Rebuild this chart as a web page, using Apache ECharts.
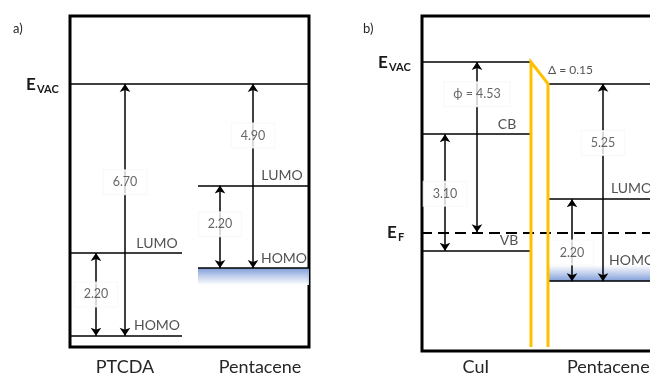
<!DOCTYPE html>
<html>
<head>
<meta charset="utf-8">
<script src="https://cdn.jsdelivr.net/npm/echarts@6/dist/echarts.min.js"></script>
<style>html,body{margin:0;padding:0;background:#fff}#c{width:650px;height:374px}</style>
</head>
<body>
<div id="c"></div>
<script>
// ---------- DATA (energies in eV, as drawn; vacuum level of left material = 0) ----------
const panelLabels = ['a)', 'b)'];
const materialsA = ['PTCDA', 'Pentacene'];
const materialsB = ['CuI', 'Pentacene'];
const levelNamesA = ['LUMO', 'HOMO'];
const levelNamesB = ['CB', 'VB'];
const ptcdaEnergy = [0, -4.50, -6.70];          // Evac, LUMO, HOMO
const pentaceneAEnergy = [0, -2.70, -4.90];     // Evac, LUMO, HOMO
const cuiEnergy = [0, -1.92, -5.02];            // Evac, CB, VB
const fermiEnergy = -4.53;                      // E_F
const pentaceneBEnergy = [-0.58, -3.65, -5.83]; // Evac, LUMO, HOMO (drawn)
const gapLabelsA = ['6.70', '2.20', '4.90', '2.20'];
const gapLabelsB = ['\u03D5 = 4.53', '3.10', '5.25', '2.20'];
const dipoleLabel = '\u0394 = 0.15';

// ---------- LAYOUT ----------
const FONT = 'Lato, "Open Sans", sans-serif';
const yA = [-7.0, 1.81], yB = [-7.58, 1.25];
const XB = 229; // visible width of panel b (its frame continues past the page edge)
const chart = echarts.init(document.getElementById('c'), null, {renderer: 'canvas'});

function seg(x0, x1, e) { return {coords: [[x0, e], [x1, e]]}; }
function arrow(x, e0, e1) { return {coords: [[x, e0], [x, e1]]}; }
function gapLabel(x, e0, e1, t, text) { return {value: [x, e0 + (e1 - e0) * t], text: text}; }

const levelLinesA = [
  seg(0, 239, ptcdaEnergy[0]),
  seg(0, 112, ptcdaEnergy[1]), seg(0, 112, ptcdaEnergy[2]),
  seg(128, 239, pentaceneAEnergy[1]), seg(128, 239, pentaceneAEnergy[2])
];
const arrowsA = [
  arrow(55, ptcdaEnergy[0], ptcdaEnergy[2]),
  arrow(26, ptcdaEnergy[1], ptcdaEnergy[2]),
  arrow(183, pentaceneAEnergy[0], pentaceneAEnergy[2]),
  arrow(150, pentaceneAEnergy[1], pentaceneAEnergy[2])
];
const gapTextA = [
  gapLabel(55, ptcdaEnergy[0], ptcdaEnergy[2], 0.39, gapLabelsA[0]),
  gapLabel(26, ptcdaEnergy[1], ptcdaEnergy[2], 0.5, gapLabelsA[1]),
  gapLabel(183, pentaceneAEnergy[0], pentaceneAEnergy[2], 0.28, gapLabelsA[2]),
  gapLabel(150, pentaceneAEnergy[1], pentaceneAEnergy[2], 0.47, gapLabelsA[3])
];
const levelTextA = [
  {value: [87, ptcdaEnergy[1]], text: levelNamesA[0]},
  {value: [87, ptcdaEnergy[2]], text: levelNamesA[1]},
  {value: [212, pentaceneAEnergy[1]], text: levelNamesA[0]},
  {value: [214, pentaceneAEnergy[2]], text: levelNamesA[1]}
];

const levelLinesB = [
  seg(0, 111, cuiEnergy[0]),
  seg(0, 110, cuiEnergy[1]), seg(0, 110, cuiEnergy[2]),
  seg(127, XB, pentaceneBEnergy[0]),
  seg(127, XB, pentaceneBEnergy[1]), seg(127, XB, pentaceneBEnergy[2])
];
const arrowsB = [
  arrow(56, cuiEnergy[0], fermiEnergy),
  arrow(24, cuiEnergy[1], cuiEnergy[2]),
  arrow(182, pentaceneBEnergy[0], pentaceneBEnergy[2]),
  arrow(151, pentaceneBEnergy[1], pentaceneBEnergy[2])
];
const gapTextB = [
  gapLabel(56, cuiEnergy[0], fermiEnergy, 0.19, gapLabelsB[0]),
  gapLabel(24, cuiEnergy[1], cuiEnergy[2], 0.51, gapLabelsB[1]),
  gapLabel(182, pentaceneBEnergy[0], pentaceneBEnergy[2], 0.30, gapLabelsB[2]),
  gapLabel(151, pentaceneBEnergy[1], pentaceneBEnergy[2], 0.65, gapLabelsB[3])
];

const levelStyle = {color: '#000', width: 1.6, opacity: 1};
const arrowStyle = {color: '#000', width: 1.5, opacity: 1};
const gapLabelStyle = {
  show: true, position: 'inside', formatter: p => p.data.text,
  color: '#404040', fontSize: 12.5, fontFamily: FONT,
  backgroundColor: '#fff', borderColor: '#f6f6f6', borderWidth: 1, padding: [6, 9, 5, 9]
};
const levelLabelStyle = {
  show: true, position: 'top', distance: 3, formatter: p => p.data.text,
  color: '#262626', fontSize: 14, fontFamily: FONT
};

function gradientSeries(xi, data, blueOnTop) {
  return {
    type: 'custom', xAxisIndex: xi, yAxisIndex: xi, z: 1, silent: true,
    data: data,
    renderItem: (params, api) => {
      const p0 = api.coord([api.value(0), api.value(2)]);
      const p1 = api.coord([api.value(1), api.value(3)]);
      const stops = blueOnTop
        ? [{offset: 0, color: '#7f9dd8'}, {offset: 1, color: 'rgba(255,255,255,0.9)'}]
        : [{offset: 0, color: 'rgba(255,255,255,0.9)'}, {offset: 1, color: '#7f9dd8'}];
      return {
        type: 'rect',
        shape: {x: p0[0], y: Math.min(p0[1], p1[1]), width: p1[0] - p0[0], height: Math.abs(p1[1] - p0[1])},
        style: {fill: new echarts.graphic.LinearGradient(0, 0, 0, 1, stops)}
      };
    }
  };
}

const hiddenAxis = {show: false, axisLine: {show: false}, splitLine: {show: false}, axisTick: {show: false}, axisLabel: {show: false}};

const option = {
  animation: false,
  backgroundColor: '#fff',
  grid: [
    {left: 70, top: 16, width: 239, height: 331, show: true, borderColor: '#000', borderWidth: 3, backgroundColor: '#fff'},
    {left: 421, top: 15, right: 0, height: 332, show: false}
  ],
  xAxis: [
    Object.assign({type: 'value', gridIndex: 0, min: 0, max: 239}, hiddenAxis),
    Object.assign({type: 'value', gridIndex: 1, min: 0, max: XB}, hiddenAxis)
  ],
  yAxis: [
    Object.assign({type: 'value', gridIndex: 0, min: yA[0], max: yA[1]}, hiddenAxis),
    Object.assign({type: 'value', gridIndex: 1, min: yB[0], max: yB[1]}, hiddenAxis)
  ],
  series: [
    gradientSeries(0, [[128, 239, pentaceneAEnergy[2], pentaceneAEnergy[2] - 0.45]], true),
    gradientSeries(1, [[127, XB, pentaceneBEnergy[2] + 0.43, pentaceneBEnergy[2]]], false),
    {type: 'lines', coordinateSystem: 'cartesian2d', xAxisIndex: 0, yAxisIndex: 0, z: 3, symbol: 'none',
     lineStyle: levelStyle, data: levelLinesA, silent: true},
    {type: 'lines', coordinateSystem: 'cartesian2d', xAxisIndex: 0, yAxisIndex: 0, z: 3,
     symbol: ['arrow', 'arrow'], symbolSize: 8, lineStyle: arrowStyle, data: arrowsA, silent: true},
    {type: 'scatter', xAxisIndex: 0, yAxisIndex: 0, z: 5, symbolSize: 0, data: gapTextA, label: gapLabelStyle, silent: true},
    {type: 'scatter', xAxisIndex: 0, yAxisIndex: 0, z: 5, symbolSize: 0, data: levelTextA, label: levelLabelStyle, silent: true},

    {type: 'lines', coordinateSystem: 'cartesian2d', xAxisIndex: 1, yAxisIndex: 1, z: 3, symbol: 'none',
     lineStyle: levelStyle, data: levelLinesB, silent: true},
    {type: 'lines', coordinateSystem: 'cartesian2d', xAxisIndex: 1, yAxisIndex: 1, z: 3, symbol: 'none',
     lineStyle: {color: '#000', width: 1.8, opacity: 1, type: [11, 6]}, data: [seg(0, XB, fermiEnergy)], silent: true},
    {type: 'lines', coordinateSystem: 'cartesian2d', xAxisIndex: 1, yAxisIndex: 1, z: 4, symbol: 'none', polyline: true,
     lineStyle: {color: '#FFC000', width: 3, opacity: 1},
     data: [{coords: [[110, yB[0]], [110, cuiEnergy[0]], [127, pentaceneBEnergy[0]], [127, yB[0]]]}], silent: true},
    {type: 'lines', coordinateSystem: 'cartesian2d', xAxisIndex: 1, yAxisIndex: 1, z: 3,
     symbol: ['arrow', 'arrow'], symbolSize: 8, lineStyle: arrowStyle, data: arrowsB, silent: true},
    {type: 'scatter', xAxisIndex: 1, yAxisIndex: 1, z: 5, symbolSize: 0, data: gapTextB, label: gapLabelStyle, silent: true},
    {type: 'scatter', xAxisIndex: 1, yAxisIndex: 1, z: 5, symbolSize: 0, silent: true,
     data: [
       {value: [86, cuiEnergy[1]], text: levelNamesB[0]},
       {value: [88, cuiEnergy[2]], text: levelNamesB[1]}
     ], label: levelLabelStyle},
    {type: 'scatter', xAxisIndex: 1, yAxisIndex: 1, z: 5, symbolSize: 0, silent: true,
     data: [{value: [190, pentaceneBEnergy[1]], text: levelNamesA[0]}],
     label: Object.assign({}, levelLabelStyle, {align: 'left', distance: 4})},
    {type: 'scatter', xAxisIndex: 1, yAxisIndex: 1, z: 5, symbolSize: 0, silent: true,
     data: [{value: [188, pentaceneBEnergy[2]], text: levelNamesA[1]}],
     label: Object.assign({}, levelLabelStyle, {align: 'left', distance: 14})},
    {type: 'scatter', xAxisIndex: 1, yAxisIndex: 1, z: 5, symbolSize: 0, silent: true,
     data: [{value: [127, pentaceneBEnergy[0]], text: dipoleLabel}],
     label: {show: true, position: 'top', align: 'left', distance: 8, formatter: p => p.data.text,
             color: '#262626', fontSize: 12, fontFamily: FONT}}
  ],
  graphic: [
    // frame of panel b (continues past the right edge of the page)
    {type: 'rect', left: 419.5, top: 13.5, z: 0, silent: true,
     shape: {width: 270, height: 335}, style: {fill: null, stroke: '#000', lineWidth: 3}},
    {type: 'text', left: 13, top: 22, style: {text: panelLabels[0], font: '13px ' + FONT, fill: '#262626'}},
    {type: 'text', left: 363, top: 22, style: {text: panelLabels[1], font: '13px ' + FONT, fill: '#262626'}},
    // E_VAC panel a
    {type: 'text', left: 26, top: 76, style: {text: 'E', font: 'bold 17px ' + FONT, fill: '#1a1a1a'}},
    {type: 'text', left: 37, top: 84, style: {text: 'VAC', font: 'bold 11px ' + FONT, fill: '#1a1a1a'}},
    // E_VAC panel b
    {type: 'text', left: 378, top: 54, style: {text: 'E', font: 'bold 17px ' + FONT, fill: '#1a1a1a'}},
    {type: 'text', left: 389, top: 62, style: {text: 'VAC', font: 'bold 11px ' + FONT, fill: '#1a1a1a'}},
    // E_F
    {type: 'text', left: 387, top: 224, style: {text: 'E', font: 'bold 17px ' + FONT, fill: '#1a1a1a'}},
    {type: 'text', left: 398, top: 232, style: {text: 'F', font: 'bold 11px ' + FONT, fill: '#1a1a1a'}},
    // material names
    {type: 'text', x: 125, y: 367, style: {text: materialsA[0], font: '18px ' + FONT, fill: '#262626', textAlign: 'center', textVerticalAlign: 'middle'}},
    {type: 'text', x: 260, y: 367, style: {text: materialsA[1], font: '18px ' + FONT, fill: '#262626', textAlign: 'center', textVerticalAlign: 'middle'}},
    {type: 'text', x: 476, y: 367, style: {text: materialsB[0], font: '18px ' + FONT, fill: '#262626', textAlign: 'center', textVerticalAlign: 'middle'}},
    {type: 'text', x: 567, y: 367, style: {text: materialsB[1], font: '18px ' + FONT, fill: '#262626', textAlign: 'left', textVerticalAlign: 'middle'}}
  ]
};
chart.setOption(option);
</script>
</body>
</html>
